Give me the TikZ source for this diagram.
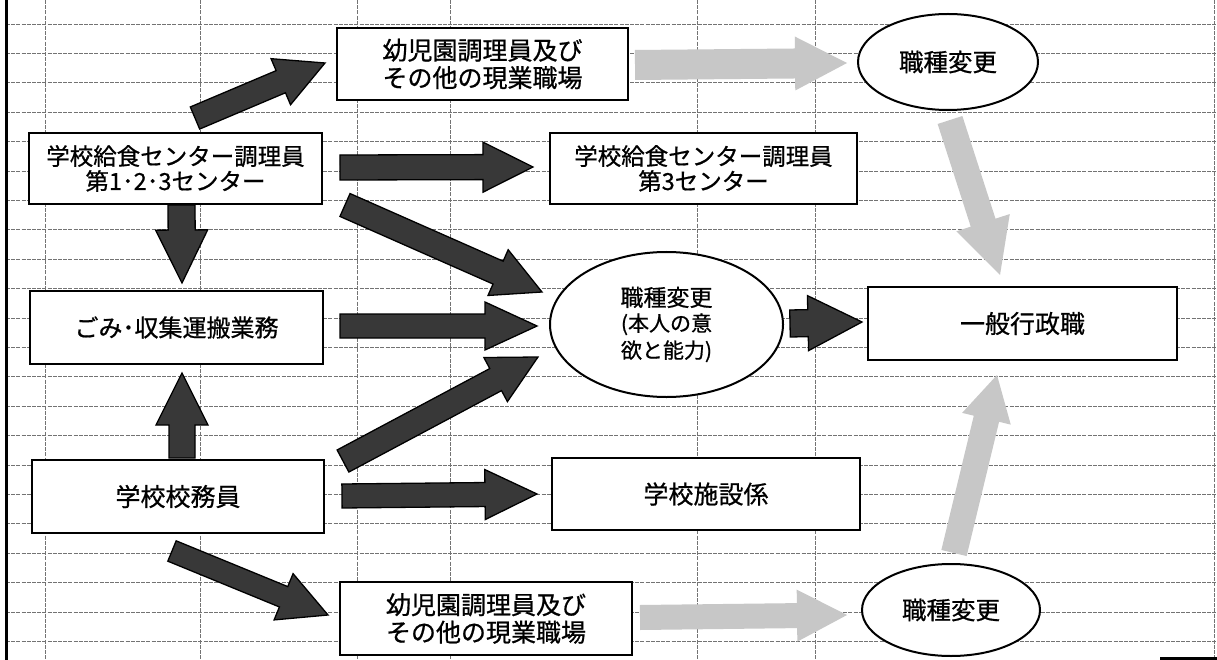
\documentclass[tikz,border=0pt]{standalone}
\usepackage{fontspec}
\setmainfont{Noto Sans CJK JP}[FakeBold=0.7]
\usetikzlibrary{calc,shapes.geometric}
\tikzset{
  box/.style={draw=black, line width=2.2pt, fill=white, rectangle, inner sep=0pt, align=center,
    font=\fontsize{25}{27.5}\selectfont},
  oval/.style={draw=black, line width=2pt, fill=white, ellipse, inner sep=0pt, align=center,
    font=\fontsize{24.5}{27}\selectfont},
  gridline/.style={draw=black!55, line width=0.9pt, dash pattern=on 4pt off 1.2pt},
  darkarrow/.style={fill=black!78, draw=black, line width=1.3pt, line join=miter},
  lightarrow/.style={fill=black!22, draw=none},
}
% #1 style, #2 tail, #3 tip, #4 half shaft width, #5 half head width, #6 head length
\newcommand\blockarrow[6]{%
  \coordinate (ba-h) at ($(#3)!#6!(#2)$);
  \path[#1] ($(#2)!#4!90:(#3)$) -- ($(ba-h)!#4!90:(#3)$) -- ($(ba-h)!#5!90:(#3)$) -- (#3)
    -- ($(ba-h)!#5!-90:(#3)$) -- ($(ba-h)!#4!-90:(#3)$) -- ($(#2)!#4!-90:(#3)$) -- cycle;
}
\begin{document}
\begin{tikzpicture}[x=1pt,y=-1pt]
\useasboundingbox (0,0) rectangle (1217,660);
\fill[white] (0,0) rectangle (1217,660);
% grid
\foreach \i in {0,...,21} \draw[gridline] (6,{24+29.4*\i}) -- (1217,{24+29.4*\i});
\foreach \x in {45,200,357,450,697,815,1214} \draw[gridline] (\x,0) -- (\x,660);
\draw[line width=3pt] (6,0) -- (6,660);
\draw[line width=3pt] (1160,658) -- (1217,658);

% nodes
\node[box, minimum width=291pt, minimum height=72pt] (kin1) at (482.5,64) {幼児園調理員及び\\その他の現業職場};
\node[box, minimum width=293pt, minimum height=71pt, font=\fontsize{23.5}{25}\selectfont] (kyu) at (175.5,168.5) {学校給食センター調理員\\第1･2･3センター};
\node[box, minimum width=307pt, minimum height=71pt, font=\fontsize{23.5}{25}\selectfont] (kyu3) at (703.5,168.5) {学校給食センター調理員\\第3センター};
\node[oval, minimum width=180pt, minimum height=96pt] (hen1) at (948,62) {職種変更};
\node[box, minimum width=293pt, minimum height=73pt, font=\fontsize{24}{27}\selectfont] (gomi) at (176.5,327.5) {ごみ･収集運搬業務};
\node[oval, minimum width=233pt, minimum height=145pt, font=\fontsize{23}{27}\selectfont] (hen) at (666.5,324.5)
  {職種変更\\[-2pt]{\fontsize{21}{25}\selectfont (本人の意}\\{\fontsize{21}{25}\selectfont 欲と能力)}};
\node[box, minimum width=309pt, minimum height=73pt] (ippan) at (1022.5,323.5) {一般行政職};
\node[box, minimum width=292pt, minimum height=73pt] (komu) at (178,496.5) {学校校務員};
\node[box, minimum width=308pt, minimum height=72pt] (shisetsu) at (706,494) {学校施設係};
\node[box, minimum width=292pt, minimum height=73pt] (kin2) at (486,618.5) {幼児園調理員及び\\その他の現業職場};
\node[oval, minimum width=178pt, minimum height=92pt] (hen2) at (951,610) {職種変更};

% arrow end points
\coordinate (aA0) at (195,118);   \coordinate (aA1) at (325,63);
\coordinate (aB0) at (340,167.5); \coordinate (aB1) at (533,167);
\coordinate (aC0) at (345,205);   \coordinate (aC1) at (542,292);
\coordinate (aD0) at (340,326);   \coordinate (aD1) at (537,326);
\coordinate (aE0) at (343,461);   \coordinate (aE1) at (538,357);
\coordinate (aF0) at (342,496);   \coordinate (aF1) at (537,494);
\coordinate (aG0) at (181.5,205); \coordinate (aG1) at (182,283);
\coordinate (aH0) at (182,458);   \coordinate (aH1) at (182,373);
\coordinate (aI0) at (172,551);   \coordinate (aI1) at (328,615);
\coordinate (aJ0) at (790,323.5); \coordinate (aJ1) at (862,322);
\coordinate (aK0) at (635,65);    \coordinate (aK1) at (847,63);
\coordinate (aL0) at (950,120);   \coordinate (aL1) at (1000,275);
\coordinate (aM0) at (640,617.5); \coordinate (aM1) at (847,615);
\coordinate (aN0) at (954,553);   \coordinate (aN1) at (997,375);

% dark arrows
\blockarrow{darkarrow}{aA0}{aA1}{12pt}{25pt}{48pt}
\blockarrow{darkarrow}{aB0}{aB1}{12.5pt}{25pt}{50pt}
\blockarrow{darkarrow}{aC0}{aC1}{12.5pt}{25pt}{48pt}
\blockarrow{darkarrow}{aD0}{aD1}{12pt}{24pt}{52pt}
\blockarrow{darkarrow}{aE0}{aE1}{12.5pt}{25pt}{48pt}
\blockarrow{darkarrow}{aF0}{aF1}{12pt}{25pt}{52pt}
\blockarrow{darkarrow}{aG0}{aG1}{13.5pt}{26pt}{53pt}
\blockarrow{darkarrow}{aH0}{aH1}{13pt}{26pt}{52pt}
\blockarrow{darkarrow}{aI0}{aI1}{11pt}{25pt}{48pt}
\blockarrow{darkarrow}{aJ0}{aJ1}{13.5pt}{27.5pt}{54pt}
% light arrows
\blockarrow{lightarrow}{aK0}{aK1}{15pt}{27pt}{52pt}
\blockarrow{lightarrow}{aL0}{aL1}{13pt}{28pt}{55pt}
\blockarrow{lightarrow}{aM0}{aM1}{12.5pt}{26pt}{50pt}
\blockarrow{lightarrow}{aN0}{aN1}{13pt}{25pt}{45pt}
\end{tikzpicture}
\end{document}
